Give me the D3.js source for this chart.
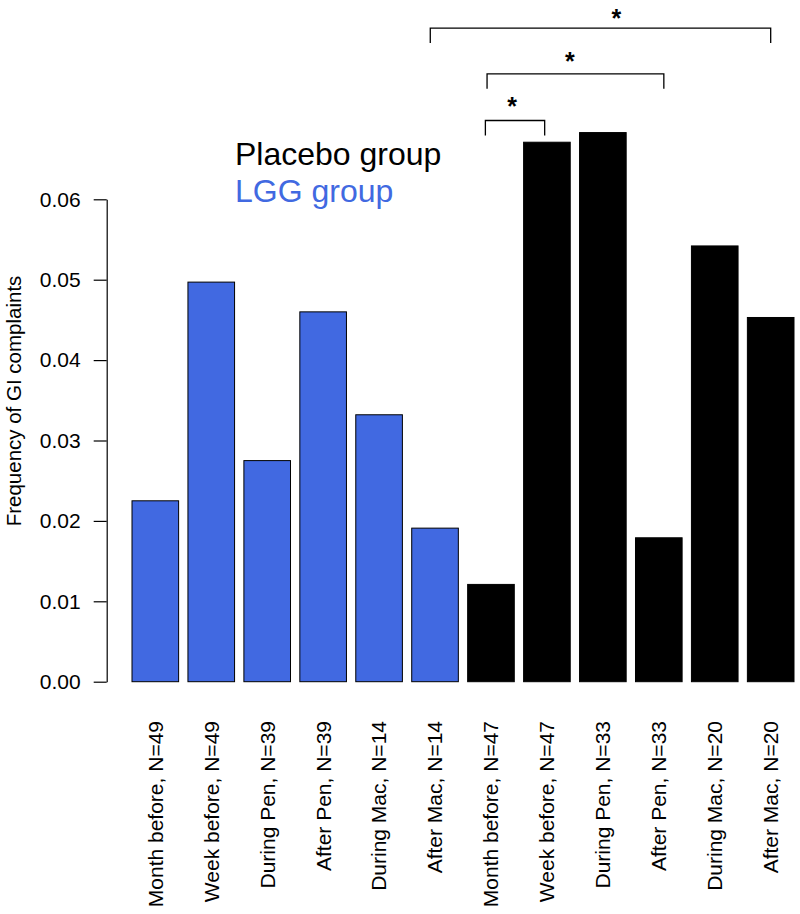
<!DOCTYPE html>
<html>
<head>
<meta charset="utf-8">
<script src="https://cdn.jsdelivr.net/npm/d3@7"></script>
<style>
  html, body { margin: 0; padding: 0; background: #fff; }
  svg { display: block; font-family: "Liberation Sans", Arial, Helvetica, sans-serif; }
</style>
</head>
<body>
<svg id="chart" width="800" height="914"></svg>
<script>
// ---- data ----
const categories = [
  "Month before, N=49", "Week before, N=49", "During Pen, N=39", "After Pen, N=39",
  "During Mac, N=14", "After Mac, N=14",
  "Month before, N=47", "Week before, N=47", "During Pen, N=33", "After Pen, N=33",
  "During Mac, N=20", "After Mac, N=20"
];
const groups = ["LGG", "LGG", "LGG", "LGG", "LGG", "LGG",
                "Placebo", "Placebo", "Placebo", "Placebo", "Placebo", "Placebo"];
const values = [0.0225, 0.0497, 0.0275, 0.0460, 0.0332, 0.0191,
                0.0121, 0.0671, 0.0683, 0.0179, 0.0542, 0.0453];
const yTicks = [0, 0.01, 0.02, 0.03, 0.04, 0.05, 0.06];
const yLabel = "Frequency of GI complaints";
const legendLabels = ["Placebo group", "LGG group"];
// significance brackets: ends in bar-index units, height in data units, star position in bar-index / data units
const bracketFrom = [4.915, 5.93, 5.9];
const bracketTo = [11.0, 9.09, 6.96];
const bracketLevel = [0.0813, 0.0756, 0.0698];
const starAt = [8.24, 7.41, 6.38];
const starLevel = [0.0833, 0.0779, 0.0723];
const starLabel = ["*", "*", "*"];

// ---- styles ----
const colors = { LGG: "#4169E1", Placebo: "#000000" };
const legendColors = ["#000000", "#4169E1"];
const starSize = 25;

const svg = d3.select("#chart");

const x = d3.scaleBand()
  .domain(d3.range(categories.length))
  .range([132, 794])
  .paddingInner(0.2 / 1.2)
  .paddingOuter(0);

const y = d3.scaleLinear().domain([0, 0.06]).range([681.7, 199.3]);

// bar-index -> pixel center
const xi = d3.scaleLinear()
  .domain([0, categories.length - 1])
  .range([x(0) + x.bandwidth() / 2, x(categories.length - 1) + x.bandwidth() / 2]);

// bars
svg.append("g").selectAll("rect")
  .data(values)
  .join("rect")
  .attr("x", (d, i) => x(i))
  .attr("y", d => y(d))
  .attr("width", x.bandwidth())
  .attr("height", d => y(0) - y(d))
  .attr("fill", (d, i) => colors[groups[i]])
  .attr("stroke", "#000")
  .attr("stroke-width", 1);

// y axis
const yAxis = d3.axisLeft(y)
  .tickValues(yTicks)
  .tickFormat(d3.format(".2f"))
  .tickSize(13)
  .tickSizeOuter(0)
  .tickPadding(13);

const gy = svg.append("g")
  .attr("transform", "translate(106.7,0)")
  .call(yAxis);
gy.select(".domain").attr("stroke", "#000").attr("stroke-width", 1.2);
gy.selectAll(".tick line").attr("stroke", "#000").attr("stroke-width", 1.2);
gy.selectAll(".tick text")
  .attr("fill", "#000")
  .style("font-size", "21px")
  .style("font-family", "'Liberation Sans', Arial, Helvetica, sans-serif");

// y label
svg.append("text")
  .attr("transform", "translate(21,401) rotate(-90)")
  .attr("text-anchor", "middle")
  .style("font-size", "20.5px")
  .attr("fill", "#000")
  .text(yLabel);

// x labels (rotated)
svg.append("g").selectAll("text")
  .data(categories)
  .join("text")
  .attr("transform", (d, i) => `translate(${x(i) + x.bandwidth() / 2},721) rotate(-90)`)
  .attr("text-anchor", "end")
  .attr("dy", "0.35em")
  .style("font-size", "21px")
  .attr("fill", "#000")
  .text(d => d);

// legend
svg.append("g").selectAll("text")
  .data(legendLabels)
  .join("text")
  .attr("x", 235)
  .attr("y", (d, i) => 165 + i * 36.5)
  .style("font-size", "32px")
  .attr("fill", (d, i) => legendColors[i])
  .text(d => d);

// significance brackets
const legLen = 0.00185;
const br = svg.append("g");
bracketFrom.forEach((f, k) => {
  const x1 = xi(f), x2 = xi(bracketTo[k]);
  const yt = y(bracketLevel[k]), yb = y(bracketLevel[k] - legLen);
  br.append("path")
    .attr("d", `M${x1},${yb}V${yt}H${x2}V${yb}`)
    .attr("fill", "none")
    .attr("stroke", "#000")
    .attr("stroke-width", 1.3);
  br.append("text")
    .attr("x", xi(starAt[k]))
    .attr("y", y(starLevel[k]) + 0.59 * starSize)
    .attr("text-anchor", "middle")
    .style("font-size", starSize + "px")
    .style("font-weight", "bold")
    .attr("fill", "#000")
    .text(starLabel[k]);
});
</script>
</body>
</html>
